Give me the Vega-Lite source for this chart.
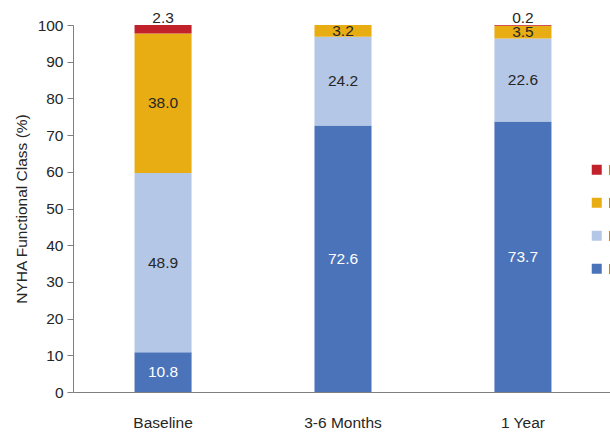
{
  "$schema": "https://vega.github.io/schema/vega-lite/v6.json",
  "width": 540,
  "height": 367,
  "autosize": {"type": "none"},
  "padding": {"left": 73, "top": 25, "right": 0, "bottom": 42},
  "config": {
    "view": {"stroke": null},
    "font": "Liberation Sans",
    "text": {"font": "Liberation Sans", "fontSize": 15.5},
    "axisY": {
      "titleFontSize": 15.5,
      "titleFontWeight": "normal",
      "titleColor": "#262626",
      "titlePadding": 8,
      "labelOverlap": false,
      "labelFontSize": 15.5,
      "labelColor": "#262626",
      "labelPadding": 4,
      "tickSize": 6,
      "tickColor": "#7f7f7f",
      "domainColor": "#7f7f7f",
      "grid": false
    }
  },
  "data": {
    "values": [
      {"period": "Baseline", "cls": "I", "level": 1, "pct": 10.8},
      {"period": "Baseline", "cls": "II", "level": 2, "pct": 48.9},
      {"period": "Baseline", "cls": "III", "level": 3, "pct": 38.0},
      {"period": "Baseline", "cls": "IV", "level": 4, "pct": 2.3},
      {"period": "3-6 Months", "cls": "I", "level": 1, "pct": 72.6},
      {"period": "3-6 Months", "cls": "II", "level": 2, "pct": 24.2},
      {"period": "3-6 Months", "cls": "III", "level": 3, "pct": 3.2},
      {"period": "1 Year", "cls": "I", "level": 1, "pct": 73.7},
      {"period": "1 Year", "cls": "II", "level": 2, "pct": 22.6},
      {"period": "1 Year", "cls": "III", "level": 3, "pct": 3.5},
      {"period": "1 Year", "cls": "IV", "level": 4, "pct": 0.2}
    ]
  },
  "transform": [
    {"stack": "pct", "groupby": ["period"], "sort": [{"field": "level"}], "as": ["y0", "y1"]},
    {"calculate": "(datum.y0 + datum.y1) / 2", "as": "ymid"}
  ],
  "encoding": {
    "x": {
      "field": "period",
      "type": "nominal",
      "sort": ["Baseline", "3-6 Months", "1 Year"],
      "scale": {"paddingInner": 0.683, "paddingOuter": 0.342},
      "axis": {
        "title": null,
        "labelAngle": 0,
        "labelFontSize": 15.5,
        "labelColor": "#262626",
        "labelPadding": 23,
        "ticks": false,
        "domainColor": "#7f7f7f",
        "domainWidth": 1
      }
    }
  },
  "layer": [
    {
      "mark": {"type": "bar"},
      "encoding": {
        "y": {
          "field": "y0",
          "type": "quantitative",
          "title": "NYHA Functional Class (%)",
          "scale": {"domain": [0, 100], "nice": false},
          "axis": {"values": [0, 10, 20, 30, 40, 50, 60, 70, 80, 90, 100]}
        },
        "y2": {"field": "y1"},
        "color": {
          "field": "cls",
          "type": "nominal",
          "scale": {
            "domain": ["IV", "III", "II", "I"],
            "range": ["#c1212a", "#e8ad13", "#b4c7e7", "#4a73b9"]
          },
          "legend": {
            "title": null,
            "orient": "none",
            "legendX": 516,
            "legendY": 137,
            "symbolType": "square",
            "symbolSize": 100,
            "symbolStrokeWidth": 0,
            "labelFontSize": 15.5,
            "labelColor": "#262626",
            "labelOffset": 3.5,
            "rowPadding": 16
          }
        }
      }
    },
    {
      "transform": [{"filter": "datum.cls === 'I'"}],
      "mark": {"type": "text", "color": "#ffffff", "baseline": "middle"},
      "encoding": {
        "y": {"field": "ymid", "type": "quantitative", "title": "NYHA Functional Class (%)", "axis": {"values": [0, 10, 20, 30, 40, 50, 60, 70, 80, 90, 100]}},
        "text": {"field": "pct", "type": "quantitative", "format": ".1f"}
      }
    },
    {
      "transform": [{"filter": "datum.cls === 'II' || datum.cls === 'III'"}],
      "mark": {"type": "text", "color": "#262626", "baseline": "middle"},
      "encoding": {
        "y": {"field": "ymid", "type": "quantitative", "title": "NYHA Functional Class (%)", "axis": {"values": [0, 10, 20, 30, 40, 50, 60, 70, 80, 90, 100]}},
        "text": {"field": "pct", "type": "quantitative", "format": ".1f"}
      }
    },
    {
      "transform": [{"filter": "datum.cls === 'IV'"}],
      "mark": {"type": "text", "color": "#262626", "baseline": "alphabetic", "dy": -2},
      "encoding": {
        "y": {"field": "y1", "type": "quantitative", "title": "NYHA Functional Class (%)", "axis": {"values": [0, 10, 20, 30, 40, 50, 60, 70, 80, 90, 100]}},
        "text": {"field": "pct", "type": "quantitative", "format": ".1f"}
      }
    }
  ]
}
